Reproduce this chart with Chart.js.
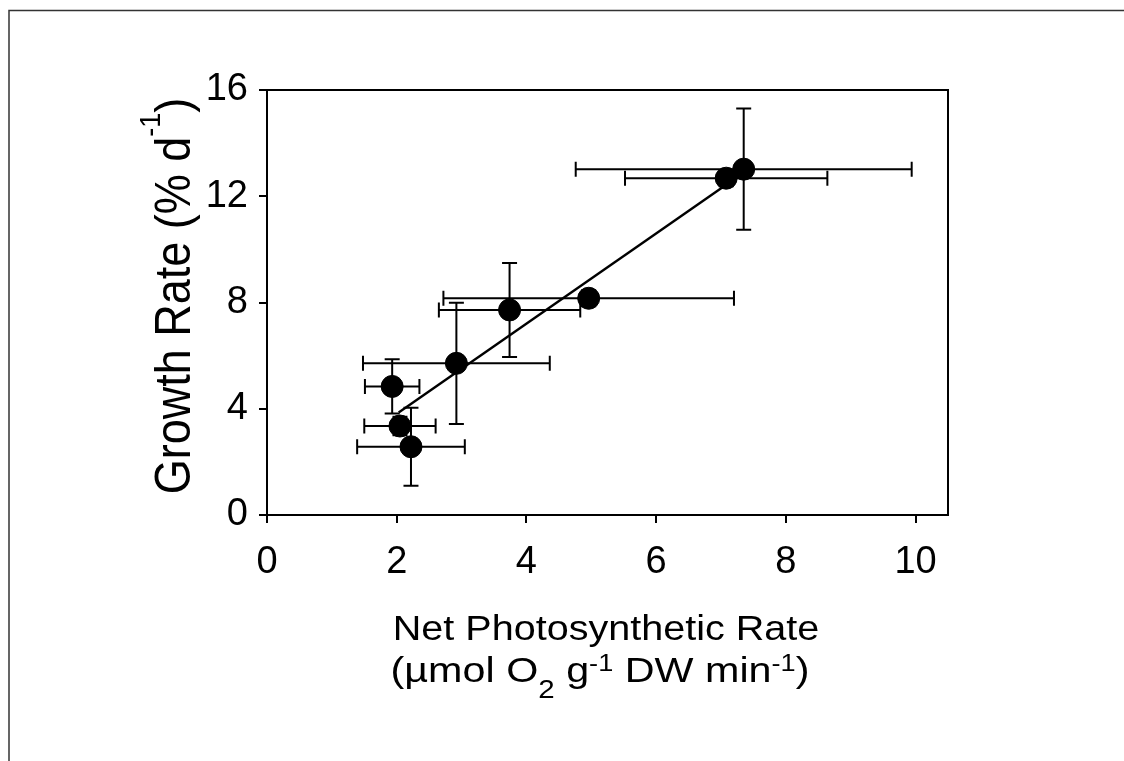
<!DOCTYPE html>
<html>
<head>
<meta charset="utf-8">
<script src="https://cdn.jsdelivr.net/npm/chart.js@4.4.0/dist/chart.umd.min.js"></script>
<style>
  html, body { margin: 0; padding: 0; background: #ffffff; }
  #wrap { width: 1124px; height: 761px; position: relative; }
</style>
</head>
<body>
<div id="wrap"><canvas id="chart" width="1124" height="761"></canvas></div>
<script>
// Net photosynthetic rate (x) and growth rate (y), with standard errors
const photoRate  = [1.93, 2.05, 2.22, 2.92, 3.74, 4.96, 7.08, 7.35];
const photoErr   = [0.42, 0.55, 0.83, 1.44, 1.09, 2.24, 1.56, 2.59];
const growthRate = [4.84, 3.35, 2.57, 5.71, 7.72, 8.16, 12.68, 13.02];
const growthErr  = [1.02, 0.35, 1.47, 2.28, 1.77, 0.30, 0.30, 2.28];

// Linear regression line end points
const fitX = [2.03, 7.08];
const fitY = [3.86, 12.43];

// Axis ticks
const xTicks = [0, 2, 4, 6, 8, 10];
const yTicks = [0, 4, 8, 12, 16];

const FONT = "'Liberation Sans', Arial, Helvetica, sans-serif";

// Draws a run of text pieces (normal / superscript / subscript) centred on x,
// with an optional stretch of the glyphs
function drawRich(ctx, pieces, x, y, stretchX, stretchY) {
  const sx = stretchX || 1, sy = stretchY || 1;
  let total = 0;
  pieces.forEach(p => {
    ctx.font = p.size + 'px ' + FONT;
    p.w = ctx.measureText(p.text).width;
    total += p.w;
  });
  ctx.save();
  ctx.translate(x, y);
  ctx.scale(sx, sy);
  let cx = -total / 2;
  ctx.textAlign = 'left';
  ctx.textBaseline = 'alphabetic';
  pieces.forEach(p => {
    ctx.font = p.size + 'px ' + FONT;
    ctx.fillText(p.text, cx, p.dy || 0);
    cx += p.w;
  });
  ctx.restore();
}

const framePlugin = {
  id: 'frame',
  beforeDraw(chart) {
    const ctx = chart.ctx;
    ctx.save();
    ctx.fillStyle = '#ffffff';
    ctx.fillRect(0, 0, chart.width, chart.height);
    // outer page frame (top and left edges)
    ctx.strokeStyle = '#333333';
    ctx.lineWidth = 1.5;
    ctx.beginPath();
    ctx.moveTo(9, 761);
    ctx.lineTo(9, 10.5);
    ctx.lineTo(1124, 10.5);
    ctx.stroke();
    ctx.restore();
  },
  afterDraw(chart) {
    const ctx = chart.ctx;
    const a = chart.chartArea;
    ctx.save();
    // top and right sides of the plot box
    ctx.strokeStyle = '#000';
    ctx.lineWidth = 2;
    ctx.beginPath();
    ctx.moveTo(a.left, a.top);
    ctx.lineTo(a.right, a.top);
    ctx.lineTo(a.right, a.bottom);
    ctx.stroke();

    ctx.fillStyle = '#000';
    // x axis title, two lines
    drawRich(ctx, [{ text: 'Net Photosynthetic Rate', size: 35 }], 606, 640, 1.13, 1);
    drawRich(ctx, [
      { text: '(\u00b5mol O', size: 35 },
      { text: '2', size: 25, dy: 16 },
      { text: ' g', size: 35 },
      { text: '-1', size: 23, dy: -11 },
      { text: ' DW min', size: 35 },
      { text: '-1', size: 23, dy: -11 },
      { text: ')', size: 35 }
    ], 600, 682, 1.18, 1);

    // y axis title, rotated
    ctx.translate(190, 296);
    ctx.rotate(-Math.PI / 2);
    drawRich(ctx, [
      { text: 'Growth Rate (% d', size: 45 },
      { text: '-1', size: 27, dy: -27 },
      { text: ')', size: 45 }
    ], 0, 0, 1, 1.12);
    ctx.restore();
  }
};

const errorBarPlugin = {
  id: 'errorBars',
  beforeDatasetsDraw(chart) {
    const ctx = chart.ctx;
    const xs = chart.scales.x, ys = chart.scales.y;
    const cap = 7.5;
    ctx.save();
    ctx.strokeStyle = '#000';
    ctx.lineWidth = 2;
    photoRate.forEach((xv, i) => {
      const yv = growthRate[i];
      const px = xs.getPixelForValue(xv);
      const py = ys.getPixelForValue(yv);
      const x0 = xs.getPixelForValue(xv - photoErr[i]);
      const x1 = xs.getPixelForValue(xv + photoErr[i]);
      const y0 = ys.getPixelForValue(yv - growthErr[i]);
      const y1 = ys.getPixelForValue(yv + growthErr[i]);
      ctx.beginPath();
      ctx.moveTo(x0, py); ctx.lineTo(x1, py);
      ctx.moveTo(x0, py - cap); ctx.lineTo(x0, py + cap);
      ctx.moveTo(x1, py - cap); ctx.lineTo(x1, py + cap);
      ctx.moveTo(px, y0); ctx.lineTo(px, y1);
      ctx.moveTo(px - cap, y0); ctx.lineTo(px + cap, y0);
      ctx.moveTo(px - cap, y1); ctx.lineTo(px + cap, y1);
      ctx.stroke();
    });
    ctx.restore();
  }
};

new Chart(document.getElementById('chart'), {
  type: 'scatter',
  data: {
    datasets: [
      {
        type: 'line',
        data: fitX.map((x, i) => ({ x: x, y: fitY[i] })),
        borderColor: '#000',
        borderWidth: 2.4,
        pointRadius: 0,
        fill: false,
        order: 2
      },
      {
        data: photoRate.map((x, i) => ({ x: x, y: growthRate[i] })),
        backgroundColor: '#000',
        borderColor: '#000',
        pointRadius: 11,
        pointHoverRadius: 11,
        order: 1
      }
    ]
  },
  options: {
    responsive: false,
    animation: false,
    devicePixelRatio: 1,
    layout: { padding: { left: 0, top: 90, right: 176, bottom: 0 } },
    plugins: { legend: { display: false }, tooltip: { enabled: false } },
    scales: {
      x: {
        type: 'linear',
        min: 0,
        max: 10.5,
        afterBuildTicks: s => { s.ticks = xTicks.map(v => ({ value: v })); },
        afterFit: s => { s.height = 761 - 515; },
        border: { display: true, color: '#000', width: 2 },
        grid: { display: true, drawOnChartArea: false, drawTicks: true, tickLength: 8, color: '#000', lineWidth: 2 },
        ticks: { color: '#000', font: { family: FONT, size: 38 }, padding: 17, maxRotation: 0 }
      },
      y: {
        type: 'linear',
        min: 0,
        max: 16,
        afterBuildTicks: s => { s.ticks = yTicks.map(v => ({ value: v })); },
        afterFit: s => { s.width = 267; },
        border: { display: true, color: '#000', width: 2 },
        grid: { display: true, drawOnChartArea: false, drawTicks: true, tickLength: 8, color: '#000', lineWidth: 2 },
        ticks: { color: '#000', font: { family: FONT, size: 38 }, padding: 11 }
      }
    }
  },
  plugins: [framePlugin, errorBarPlugin]
});
</script>
</body>
</html>
